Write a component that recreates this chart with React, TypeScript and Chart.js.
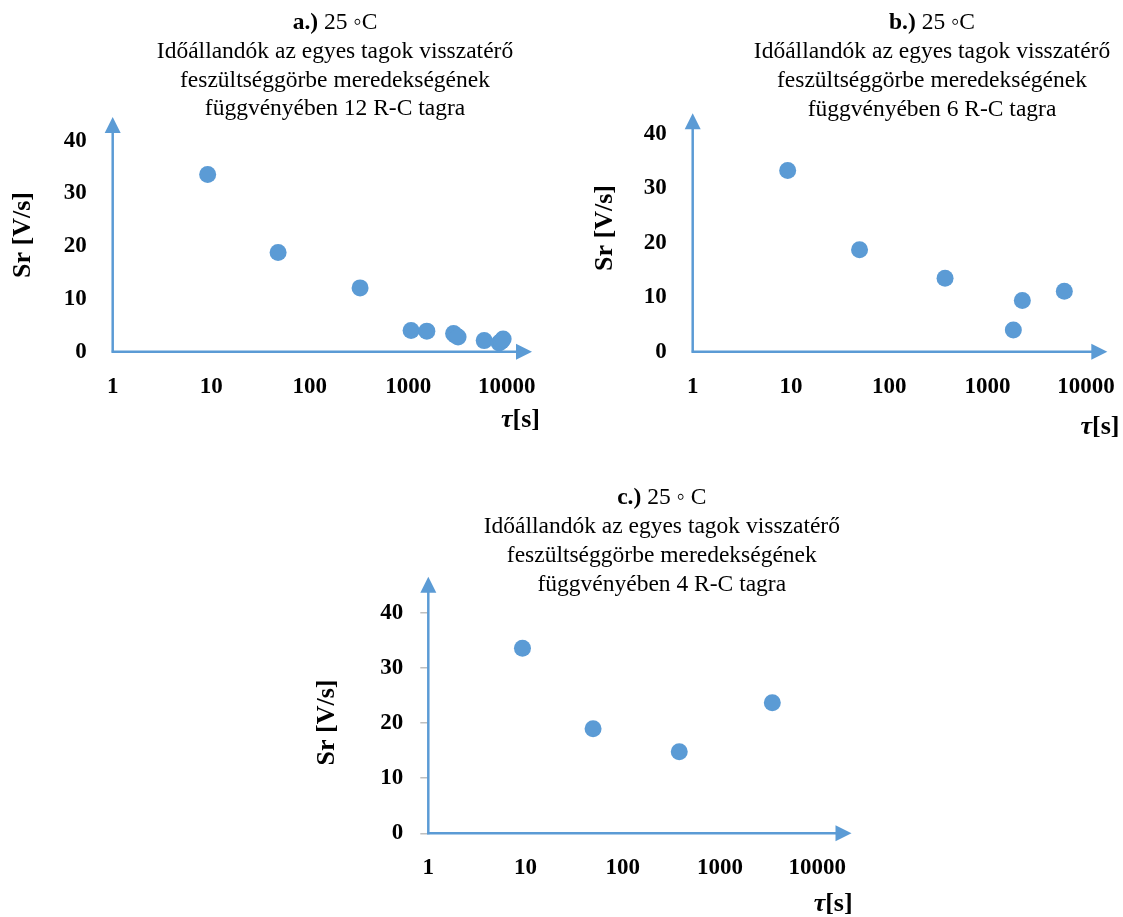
import React, { useEffect, useRef } from "react";
import { Chart, registerables } from "chart.js";

Chart.register(...registerables);

// ---------- data ----------
const xTickValues = [1, 10, 100, 1000, 10000];
const yTickValues = [0, 10, 20, 30, 40];

const tauA = [9.2, 47.7, 324, 1067, 1542, 2880, 3000, 3200, 5890, 8350, 8800, 9170];
const srA = [33.6, 18.8, 12.1, 4.0, 3.9, 3.45, 3.1, 2.8, 2.1, 1.65, 2.0, 2.4];

const tauB = [9.25, 49.8, 369, 1827, 2255, 6030];
const srB = [33.3, 18.75, 13.5, 4.0, 9.4, 11.1];

const tauC = [9.3, 49.5, 381, 3450];
const srC = [33.6, 19.0, 14.8, 23.7];

const titleLetters = ["a.)", "b.)", "c.)"];
const titleTemps = [" 25 \u25E6C", " 25 \u25E6C", " 25 \u25E6 C"];
const titleLinesA = [
  "Időállandók az egyes tagok visszatérő",
  "feszültséggörbe meredekségének",
  "függvényében 12 R-C tagra",
];
const titleLinesB = [
  "Időállandók az egyes tagok visszatérő",
  "feszültséggörbe meredekségének",
  "függvényében 6 R-C tagra",
];
const titleLinesC = [
  "Időállandók az egyes tagok visszatérő",
  "feszültséggörbe meredekségének",
  "függvényében 4 R-C tagra",
];
const yAxisTitle = "Sr [V/s]";
const xAxisTitleSym = "τ";
const xAxisTitleUnit = "[s]";

// axis ranges
const xMaxes = [18000, 16500, 22500];
const yMaxes = [44.5, 43.8, 46.6];

// ---------- styles / layout ----------
const BLUE = "#5B9BD5";
const FONT = '"Liberation Serif", "DejaVu Serif", serif';

type Layout = {
  left: number;
  top: number;
  width: number;
  height: number;
  area: { left: number; top: number; right: number; bottom: number };
  titleX: number;
  titleY: number[];
  yTitle: { x: number; y: number };
  xTitle: { right: number; y: number };
  tickMarks: boolean;
};

const layouts: Layout[] = [
  {
    left: 0,
    top: 0,
    width: 560,
    height: 440,
    area: { left: 112.7, top: 117, right: 532, bottom: 351.7 },
    titleX: 335,
    titleY: [23.3, 51.7, 81, 109.3],
    yTitle: { x: 23, y: 235 },
    xTitle: { right: 540, y: 420 },
    tickMarks: false,
  },
  {
    left: 560,
    top: 0,
    width: 563,
    height: 440,
    area: { left: 132.7, top: 113.3, right: 547.3, bottom: 351.7 },
    titleX: 372,
    titleY: [23.3, 51.7, 81, 110],
    yTitle: { x: 45, y: 228 },
    xTitle: { right: 559.5, y: 427 },
    tickMarks: false,
  },
  {
    left: 300,
    top: 470,
    width: 560,
    height: 447,
    area: { left: 128.3, top: 106.7, right: 555.7, bottom: 363.3 },
    titleX: 361.8,
    titleY: [28.3, 56.7, 86, 115],
    yTitle: { x: 27, y: 252.5 },
    xTitle: { right: 552.6, y: 434 },
    tickMarks: true,
  },
];

const datasets = [
  { tau: tauA, sr: srA, lines: titleLinesA },
  { tau: tauB, sr: srB, lines: titleLinesB },
  { tau: tauC, sr: srC, lines: titleLinesC },
];

function makeDecor(idx: number) {
  const L = layouts[idx];
  return {
    id: "decor" + idx,
    beforeDatasetsDraw(chart: any) {
      const ctx = chart.ctx as CanvasRenderingContext2D;
      const xs = chart.scales.x;
      const ys = chart.scales.y;
      const ca = chart.chartArea;
      const x0 = xs.getPixelForValue(1);
      const y0 = ys.getPixelForValue(0);
      const ah = 16; // arrow head length
      const aw = 8; // half width
      ctx.save();
      ctx.strokeStyle = BLUE;
      ctx.fillStyle = BLUE;
      ctx.lineWidth = 2.5;
      // x axis
      ctx.beginPath();
      ctx.moveTo(x0 - 1, y0);
      ctx.lineTo(ca.right - ah + 2, y0);
      ctx.stroke();
      ctx.beginPath();
      ctx.moveTo(ca.right, y0);
      ctx.lineTo(ca.right - ah, y0 - aw);
      ctx.lineTo(ca.right - ah, y0 + aw);
      ctx.closePath();
      ctx.fill();
      // y axis
      ctx.beginPath();
      ctx.moveTo(x0, y0 + 1);
      ctx.lineTo(x0, ca.top + ah - 2);
      ctx.stroke();
      ctx.beginPath();
      ctx.moveTo(x0, ca.top);
      ctx.lineTo(x0 - aw, ca.top + ah);
      ctx.lineTo(x0 + aw, ca.top + ah);
      ctx.closePath();
      ctx.fill();
      ctx.restore();
    },
    afterDraw(chart: any) {
      const ctx = chart.ctx as CanvasRenderingContext2D;
      ctx.save();
      ctx.fillStyle = "#000";
      ctx.textBaseline = "middle";
      // title line 1 (mixed bold / regular)
      const boldF = "bold 23.5px " + FONT;
      const regF = "23.5px " + FONT;
      ctx.font = boldF;
      const w1 = ctx.measureText(titleLetters[idx]).width;
      ctx.font = regF;
      const w2 = ctx.measureText(titleTemps[idx]).width;
      let sx = L.titleX - (w1 + w2) / 2;
      ctx.textAlign = "left";
      ctx.font = boldF;
      ctx.fillText(titleLetters[idx], sx, L.titleY[0]);
      ctx.font = regF;
      ctx.fillText(titleTemps[idx], sx + w1, L.titleY[0]);
      ctx.textAlign = "center";
      datasets[idx].lines.forEach((t, i) => {
        ctx.fillText(t, L.titleX, L.titleY[i + 1]);
      });
      // y axis title
      ctx.save();
      ctx.translate(L.yTitle.x, L.yTitle.y);
      ctx.rotate(-Math.PI / 2);
      ctx.font = "bold 26px " + FONT;
      ctx.textAlign = "center";
      ctx.fillText(yAxisTitle, 0, 0);
      ctx.restore();
      // x axis title
      const symF = "italic bold 26px " + FONT;
      const unitF = "bold 26px " + FONT;
      ctx.font = unitF;
      const wu = ctx.measureText(xAxisTitleUnit).width;
      ctx.font = symF;
      const ws = ctx.measureText(xAxisTitleSym).width;
      ctx.textAlign = "left";
      const startX = L.xTitle.right - wu - ws;
      ctx.fillText(xAxisTitleSym, startX, L.xTitle.y);
      ctx.font = unitF;
      ctx.fillText(xAxisTitleUnit, startX + ws, L.xTitle.y);
      ctx.restore();
    },
  };
}

function SubChart({ idx }: { idx: number }) {
  const ref = useRef<HTMLCanvasElement | null>(null);
  const L = layouts[idx];
  useEffect(() => {
    if (!ref.current) return;
    const d = datasets[idx];
    const tickFont = { family: FONT, size: 23, weight: "bold" as const };
    const chart = new Chart(ref.current, {
      type: "scatter",
      data: {
        datasets: [
          {
            data: d.tau.map((t, i) => ({ x: t, y: d.sr[i] })),
            pointRadius: 8.5,
            pointHoverRadius: 8.5,
            pointBackgroundColor: BLUE,
            pointBorderWidth: 0,
            borderWidth: 0,
            showLine: false,
            clip: false as any,
          },
        ],
      },
      options: {
        responsive: false,
        animation: false,
        events: [],
        layout: {
          padding: {
            left: 0,
            top: L.area.top,
            right: L.width - L.area.right,
            bottom: 0,
          },
        },
        plugins: {
          legend: { display: false },
          tooltip: { enabled: false },
          title: { display: false },
        },
        scales: {
          x: {
            type: "logarithmic",
            position: "bottom",
            min: 1,
            max: xMaxes[idx],
            afterBuildTicks: (s: any) => {
              s.ticks = xTickValues.map((v) => ({ value: v }));
            },
            afterFit: (s: any) => {
              s.height = L.height - L.area.bottom;
            },
            grid: { display: false, drawTicks: false, drawOnChartArea: false },
            border: { display: false },
            ticks: {
              padding: 0,
              color: "#000",
              autoSkip: false,
              maxRotation: 0,
              font: { ...tickFont, lineHeight: "70px" },
              callback: (v: any) => String(v),
            },
          },
          y: {
            type: "linear",
            min: 0,
            max: yMaxes[idx],
            afterBuildTicks: (s: any) => {
              s.ticks = yTickValues.map((v) => ({ value: v }));
            },
            afterFit: (s: any) => {
              s.width = L.area.left;
            },
            grid: L.tickMarks
              ? {
                  display: true,
                  drawOnChartArea: false,
                  drawTicks: true,
                  tickLength: 8,
                  color: "#BFBFBF",
                  lineWidth: 1.5,
                }
              : { display: false, drawTicks: false, drawOnChartArea: false },
            border: { display: false },
            ticks: {
              padding: L.tickMarks ? 17 : 26,
              color: "#000",
              autoSkip: false,
              font: tickFont,
              callback: (v: any) => String(v),
            },
          },
        },
      },
      plugins: [makeDecor(idx)],
    });
    return () => chart.destroy();
  }, [idx]);
  return (
    <canvas
      ref={ref}
      width={L.width}
      height={L.height}
      style={{
        position: "absolute",
        left: L.left,
        top: L.top,
        width: L.width,
        height: L.height,
      }}
    />
  );
}

export default function App() {
  return (
    <div
      style={{
        position: "absolute",
        left: 0,
        top: 0,
        width: 1123,
        height: 917,
        background: "#fff",
        overflow: "hidden",
      }}
    >
      <SubChart idx={0} />
      <SubChart idx={1} />
      <SubChart idx={2} />
    </div>
  );
}
